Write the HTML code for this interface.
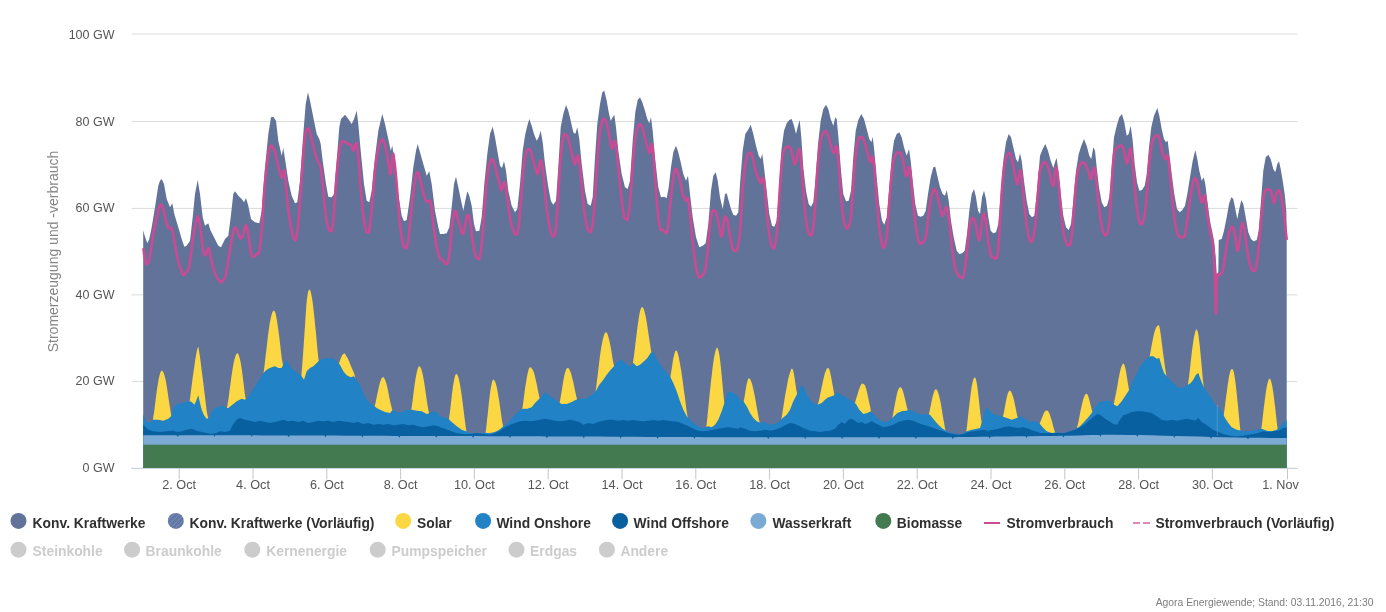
<!DOCTYPE html>
<html lang="de"><head><meta charset="utf-8"><title>Agorameter</title>
<style>
html,body{margin:0;padding:0;background:#fff;}
body{width:1386px;height:612px;overflow:hidden;font-family:"Liberation Sans",Arial,sans-serif;}
svg{display:block;will-change:transform;}
text{font-family:"Liberation Sans",Arial,sans-serif;}
.ax{font-size:12.7px;fill:#555555;}
.ay{font-size:12.5px;}
.ttl{font-size:14px;fill:#858585;}
.lg{font-size:13.85px;font-weight:bold;fill:#303030;}
.off{fill:#cccccc;}
.ft{font-size:10.35px;fill:#7d7d7d;}
</style></head><body>
<svg width="1386" height="612" viewBox="0 0 1386 612">
<rect width="1386" height="612" fill="#ffffff"/>
<line x1="131.5" x2="1297.5" y1="468.3" y2="468.3" stroke="#c0c8d8" stroke-width="1"/>
<line x1="131.5" x2="1297.5" y1="381.6" y2="381.6" stroke="#dadada" stroke-width="1"/>
<line x1="131.5" x2="1297.5" y1="294.9" y2="294.9" stroke="#dadada" stroke-width="1"/>
<line x1="131.5" x2="1297.5" y1="208.4" y2="208.4" stroke="#dadada" stroke-width="1"/>
<line x1="131.5" x2="1297.5" y1="121.6" y2="121.6" stroke="#dadada" stroke-width="1"/>
<line x1="131.5" x2="1297.5" y1="34.0" y2="34.0" stroke="#dadada" stroke-width="1"/>
<polygon points="143.2,230.7 143.3,230.7 144.7,235.7 147.3,243.3 149.3,239.0 151.7,227.3 155.0,207.3 158.3,185.7 160.0,180.7 161.7,179.0 164.0,184.0 166.7,199.0 170.0,207.3 172.3,203.3 174.3,214.0 178.3,227.3 181.7,239.0 184.3,246.7 186.7,245.7 190.0,240.7 192.7,217.3 195.0,194.0 197.7,180.0 200.0,194.0 202.7,217.3 205.0,225.7 208.3,223.3 210.7,230.7 214.0,237.3 218.3,245.7 221.0,247.3 225.0,239.0 228.3,235.7 230.7,217.3 233.3,194.0 235.0,191.3 238.3,195.7 241.7,199.0 244.0,202.3 246.0,198.0 248.3,205.7 251.0,219.0 255.0,222.3 259.3,223.3 261.7,210.7 265.0,167.3 268.3,134.0 271.0,117.3 273.3,116.7 276.0,120.7 278.3,140.7 281.7,155.7 283.3,148.0 285.3,160.7 288.3,180.7 291.7,195.7 295.0,203.3 297.3,202.3 300.0,180.7 303.3,134.0 305.7,104.0 308.0,92.3 310.0,100.7 313.3,117.3 316.7,134.0 319.3,139.0 320.7,144.0 322.7,160.7 326.0,184.0 328.3,196.7 331.7,197.3 334.0,194.0 336.7,160.7 339.3,127.3 341.0,119.0 345.0,114.7 348.3,119.0 351.7,124.0 354.0,119.0 356.7,110.7 358.3,124.0 360.7,150.7 364.0,184.0 366.7,200.7 369.3,202.3 371.7,190.7 375.0,157.3 378.3,130.7 382.3,114.0 385.0,124.0 388.3,139.0 390.7,150.7 392.3,145.7 395.0,164.0 398.3,194.0 401.7,215.7 404.0,221.3 406.7,220.0 410.0,197.3 413.3,167.3 416.0,150.7 417.7,144.0 420.0,152.3 423.3,164.0 426.7,175.7 429.3,171.3 431.7,184.0 435.0,210.7 438.3,227.3 440.0,234.0 443.3,234.0 446.7,233.3 449.3,227.3 451.7,207.3 454.0,184.0 456.0,176.7 458.3,187.3 460.7,199.0 463.3,210.7 465.3,200.7 467.3,191.3 469.3,195.7 471.7,205.7 474.0,224.0 476.0,231.3 479.3,230.7 481.7,217.3 484.3,184.0 487.3,154.0 490.0,134.0 492.7,126.7 495.0,137.3 497.3,150.7 500.0,165.7 502.0,168.0 504.0,161.3 506.0,170.7 508.3,190.7 511.7,205.7 515.0,212.3 517.3,209.0 520.0,184.0 522.7,150.7 525.3,134.0 527.3,125.7 529.3,119.0 531.7,125.7 534.0,134.0 536.7,140.7 538.7,137.3 540.7,130.7 542.7,142.3 545.0,164.0 548.3,187.3 551.0,201.3 553.3,204.7 556.0,200.7 558.3,167.3 560.7,127.3 563.3,114.0 566.0,105.0 568.3,110.7 570.7,120.7 573.3,132.3 575.3,134.0 577.3,127.3 579.3,139.0 581.7,164.0 585.0,190.7 587.7,204.0 590.7,205.7 592.7,197.3 595.0,157.3 597.3,124.0 600.0,104.0 602.3,92.3 604.3,90.7 606.7,100.7 608.7,112.3 610.7,120.7 612.7,117.3 614.3,114.7 616.0,127.3 618.3,150.7 621.7,174.0 625.0,187.3 627.7,189.0 630.0,180.7 632.7,140.7 635.3,112.3 637.7,100.0 640.0,97.3 642.3,102.3 645.0,110.7 647.3,119.0 649.3,123.3 651.0,117.3 652.7,130.7 655.0,157.3 658.3,187.3 661.0,197.3 664.0,196.7 666.7,198.0 668.7,187.3 671.0,167.3 673.3,152.3 676.0,145.7 678.3,152.3 680.7,162.3 683.3,174.0 686.0,180.7 688.0,175.7 690.0,194.0 692.7,217.3 696.0,237.3 699.3,247.3 702.7,245.7 705.7,243.3 708.3,224.0 711.0,190.7 713.3,175.7 715.7,172.3 717.7,180.7 720.0,197.3 722.7,209.0 725.0,194.0 726.7,193.3 728.7,200.7 731.0,209.0 733.3,214.7 736.0,215.7 738.3,212.3 740.0,184.0 742.7,150.7 745.3,134.0 748.0,130.0 750.7,124.7 753.3,134.0 756.0,145.7 758.7,155.7 760.7,159.0 762.3,154.0 764.0,167.3 766.7,190.7 769.3,214.0 772.0,225.7 774.3,226.7 776.7,220.7 779.0,190.7 781.3,150.7 784.0,130.7 786.7,123.3 789.3,120.0 791.7,119.0 794.0,125.7 796.0,134.0 798.0,125.7 799.7,120.0 801.3,137.3 803.3,167.3 806.0,190.7 808.7,204.0 811.0,206.7 813.3,202.3 815.7,177.3 818.0,144.0 820.7,120.7 823.3,109.0 826.0,104.7 828.3,109.0 830.7,119.0 833.3,125.7 835.3,117.3 836.7,119.0 838.7,140.7 841.0,170.7 843.3,194.0 846.0,201.3 848.7,200.7 851.0,190.7 853.3,157.3 855.7,130.7 858.3,120.0 861.3,114.0 864.0,119.0 866.7,129.0 869.3,139.0 871.3,142.3 872.7,136.7 874.3,150.7 876.7,177.3 879.3,204.0 882.0,220.7 884.3,224.7 886.7,217.3 889.0,190.7 891.7,157.3 894.0,140.7 896.7,134.0 899.3,132.3 901.7,137.3 904.0,147.3 906.7,155.7 909.0,149.0 910.7,160.7 912.7,180.7 915.3,204.0 918.0,215.7 920.7,216.7 923.3,215.7 925.7,210.7 928.0,194.0 930.7,177.3 933.3,167.3 935.3,166.7 937.3,175.7 940.0,187.3 942.7,194.0 945.0,195.7 946.7,190.0 948.7,200.7 951.0,220.7 953.7,237.3 956.7,250.7 959.3,254.0 962.0,253.3 964.7,250.7 967.0,234.0 969.3,210.7 971.7,194.0 974.0,189.0 976.0,197.3 978.0,210.7 980.0,214.0 982.0,197.3 984.0,190.7 986.0,199.0 988.3,217.3 990.7,230.7 993.3,233.3 996.0,232.3 998.3,224.0 1000.7,194.0 1003.3,160.7 1006.0,142.3 1008.7,134.0 1011.0,137.3 1013.3,147.3 1016.0,159.0 1018.0,162.3 1020.0,153.3 1021.7,160.7 1024.0,180.7 1026.7,200.7 1029.3,214.0 1032.0,217.3 1034.3,215.7 1036.7,194.0 1039.0,167.3 1040.0,155.7 1042.7,149.0 1045.3,144.0 1048.0,150.7 1050.7,160.7 1053.3,168.0 1055.3,161.3 1056.7,158.0 1058.3,170.7 1060.7,194.0 1063.3,215.7 1066.0,227.3 1068.7,230.0 1071.0,224.0 1073.3,200.7 1076.0,170.7 1078.7,154.0 1081.3,145.7 1084.0,139.0 1086.7,145.7 1089.3,155.7 1091.3,159.0 1093.3,147.3 1095.0,150.7 1096.7,167.3 1099.0,187.3 1101.7,202.3 1104.3,207.3 1107.0,205.7 1109.3,197.3 1111.7,167.3 1114.0,137.3 1116.7,125.7 1119.3,117.3 1122.0,114.0 1124.3,122.3 1126.7,135.7 1128.7,134.0 1130.7,125.7 1132.7,140.7 1134.7,164.0 1137.0,182.3 1139.3,190.7 1142.0,190.0 1144.7,185.7 1146.7,174.0 1149.0,147.3 1151.3,127.3 1154.0,115.7 1157.3,108.0 1159.3,115.7 1161.7,129.0 1164.0,139.0 1166.0,142.3 1167.7,140.7 1169.3,154.0 1171.7,174.0 1174.3,194.0 1177.0,209.0 1179.7,212.3 1182.3,210.0 1185.0,205.7 1187.3,194.0 1190.0,177.3 1192.7,160.7 1195.3,150.0 1197.3,159.0 1199.3,170.7 1201.7,180.7 1203.7,177.3 1205.3,184.0 1207.3,200.7 1210.0,220.7 1212.7,234.0 1214.3,242.3 1215.7,257.3 1216.7,274.0 1218.3,274.0 1218.7,240.0 1221.7,239.0 1224.0,230.7 1226.7,217.3 1229.0,204.0 1231.3,197.3 1233.3,199.0 1235.3,209.0 1237.3,219.0 1239.3,209.0 1241.3,200.0 1243.3,204.0 1245.7,217.3 1248.3,232.3 1251.0,239.0 1253.7,241.3 1256.7,240.0 1258.7,230.7 1261.0,200.7 1263.3,170.7 1265.7,157.3 1268.3,154.7 1270.7,159.0 1273.3,169.0 1275.3,172.3 1277.3,164.0 1279.0,161.3 1280.7,169.0 1282.7,180.7 1284.7,194.0 1286.3,210.7 1286.7,230.7 1286.7,468.0 143.2,468.0" fill="#62739a" />
<polygon points="152.9,420.0 153.4,416.6 154.0,412.9 154.5,408.9 155.0,404.9 155.5,400.8 156.0,396.8 156.5,392.9 157.0,389.2 157.6,385.7 158.1,382.5 158.6,379.6 159.1,377.1 159.6,375.0 160.1,373.3 160.6,372.0 161.1,371.1 161.7,370.7 162.2,370.7 162.7,371.2 163.2,372.0 163.7,373.1 164.2,374.4 164.7,376.2 165.2,378.3 165.8,380.7 166.3,383.4 166.8,386.4 167.3,389.7 167.8,393.1 168.3,396.7 168.8,400.1 169.3,403.6 169.9,407.0 170.4,410.4 170.9,413.5 171.4,414.9 171.4,468.0 152.9,468.0" fill="#fbd744"/>
<polygon points="189.6,401.4 190.1,397.9 190.6,394.0 191.1,389.8 191.7,385.6 192.2,381.5 192.7,377.6 193.2,374.0 193.7,370.6 194.2,367.5 194.7,363.7 195.2,359.9 195.8,356.6 196.3,353.7 196.8,351.1 197.3,349.1 197.8,347.7 198.3,346.6 198.8,349.5 199.3,352.7 199.9,356.4 200.4,360.1 200.9,364.0 201.4,368.2 201.9,372.2 202.4,376.1 202.9,380.2 203.5,384.5 204.0,389.0 204.5,393.0 205.0,397.1 205.5,401.2 206.0,405.3 206.5,409.4 207.0,412.8 207.6,415.8 208.1,418.3 208.1,468.0 189.6,468.0" fill="#fbd744"/>
<polygon points="226.9,408.0 227.4,405.4 227.9,402.3 228.5,398.8 229.0,395.0 229.5,391.1 230.0,387.2 230.5,383.4 231.0,379.7 231.5,376.1 232.0,372.7 232.5,369.5 233.0,366.5 233.5,363.8 234.0,361.3 234.6,359.1 235.1,357.3 235.6,355.7 236.1,354.5 236.6,353.7 237.1,353.3 237.6,353.3 238.1,353.8 238.6,354.8 239.1,356.2 239.6,357.9 240.1,360.1 240.7,362.6 241.2,365.5 241.7,368.6 242.2,372.4 242.7,376.4 243.2,380.5 243.7,384.6 244.2,388.8 244.7,392.9 245.2,396.4 245.7,398.9 245.7,468.0 226.9,468.0" fill="#fbd744"/>
<polygon points="263.6,373.0 264.1,369.3 264.6,365.0 265.1,360.5 265.6,356.0 266.2,351.5 266.7,347.0 267.2,342.5 267.7,338.2 268.2,334.1 268.7,330.3 269.2,326.8 269.7,323.6 270.3,320.6 270.8,318.0 271.3,315.8 271.8,313.9 272.3,312.5 272.8,311.5 273.3,310.9 273.8,310.6 274.4,310.9 274.9,311.6 275.4,313.1 275.9,315.1 276.4,317.6 276.9,320.4 277.4,323.6 277.9,327.2 278.5,331.0 279.0,334.9 279.5,339.0 280.0,343.2 280.5,347.6 281.0,352.0 281.5,356.4 282.0,359.9 282.6,362.8 283.1,365.0 283.1,468.0 263.6,468.0" fill="#fbd744"/>
<polygon points="301.3,375.9 301.8,370.6 302.3,364.2 302.8,357.5 303.3,350.6 303.8,343.8 304.3,335.7 304.9,327.2 305.4,319.2 305.9,311.8 306.4,305.1 306.9,299.7 307.4,295.8 307.9,292.8 308.5,290.8 309.0,289.7 309.5,289.5 310.0,289.9 310.5,291.1 311.0,293.0 311.5,295.4 312.1,298.4 312.6,301.9 313.1,305.9 313.6,310.2 314.1,314.7 314.6,319.6 315.1,324.8 315.7,330.1 316.2,335.6 316.7,341.2 317.2,346.6 317.7,352.0 318.2,356.9 318.7,360.9 318.7,468.0 301.3,468.0" fill="#fbd744"/>
<polygon points="338.9,363.6 339.4,362.2 340.0,360.5 340.5,359.1 341.0,357.8 341.5,356.6 342.0,355.5 342.5,354.7 343.1,354.2 343.6,353.8 344.1,353.5 344.6,353.6 345.1,354.1 345.6,354.8 346.1,355.7 346.7,356.7 347.2,357.4 347.7,358.3 348.2,359.3 348.7,360.4 349.2,361.6 349.7,362.9 350.3,364.3 350.8,365.7 351.3,366.8 351.8,367.9 352.3,369.1 352.8,370.4 353.3,371.6 353.9,372.8 354.4,374.5 354.9,376.4 355.4,378.1 355.4,468.0 338.9,468.0" fill="#fbd744"/>
<polygon points="374.6,406.3 375.1,404.6 375.6,402.4 376.1,400.0 376.6,397.6 377.1,395.0 377.7,392.5 378.2,390.0 378.7,387.7 379.2,385.5 379.7,383.6 380.2,381.8 380.7,380.4 381.2,379.1 381.7,378.2 382.2,377.6 382.7,377.3 383.2,377.3 383.8,377.6 384.3,378.3 384.8,379.2 385.3,380.4 385.8,381.7 386.3,383.3 386.8,385.2 387.3,387.3 387.8,389.6 388.3,392.1 388.8,394.7 389.3,397.4 389.9,400.3 390.4,402.6 390.9,404.7 391.4,406.7 391.9,408.6 392.4,410.0 392.4,468.0 374.6,468.0" fill="#fbd744"/>
<polygon points="411.3,409.7 411.8,406.6 412.3,402.9 412.8,399.0 413.3,395.0 413.8,391.1 414.3,387.3 414.8,383.6 415.3,380.2 415.8,377.0 416.4,374.2 416.9,371.8 417.4,369.8 417.9,368.2 418.4,367.1 418.9,366.5 419.4,366.3 419.9,366.6 420.4,367.3 420.9,368.2 421.4,369.5 421.9,371.3 422.5,373.4 423.0,375.8 423.5,378.5 424.0,381.4 424.5,384.5 425.0,387.8 425.5,391.2 426.0,394.8 426.5,398.4 427.0,401.7 427.5,404.9 428.0,408.0 428.6,410.9 429.1,413.3 429.1,468.0 411.3,468.0" fill="#fbd744"/>
<polygon points="448.9,419.3 449.4,415.9 450.0,411.7 450.5,407.3 451.0,402.8 451.5,398.3 452.0,394.0 452.5,389.9 453.0,386.1 453.6,382.7 454.1,379.8 454.6,377.5 455.1,375.7 455.6,374.5 456.1,373.9 456.6,374.0 457.2,374.5 457.7,375.4 458.2,376.8 458.7,378.5 459.2,380.7 459.7,383.1 460.2,386.0 460.7,389.1 461.3,392.5 461.8,396.2 462.3,399.9 462.8,403.9 463.3,408.0 463.8,412.1 464.3,416.3 464.9,420.5 465.4,424.5 465.9,428.3 466.4,431.5 466.4,468.0 448.9,468.0" fill="#fbd744"/>
<polygon points="485.6,433.0 486.1,429.1 486.6,424.4 487.1,419.4 487.7,414.4 488.2,409.4 488.7,404.5 489.2,399.9 489.7,395.7 490.2,391.8 490.7,388.3 491.3,385.4 491.8,383.0 492.3,381.3 492.8,380.1 493.3,379.7 493.8,379.8 494.3,380.3 494.8,381.2 495.4,382.3 495.9,383.9 496.4,385.7 496.9,388.0 497.4,390.5 497.9,393.3 498.4,396.4 499.0,399.7 499.5,403.2 500.0,406.6 500.5,410.2 501.0,413.8 501.5,417.3 502.0,420.8 502.6,424.0 503.1,426.6 503.1,468.0 485.6,468.0" fill="#fbd744"/>
<polygon points="522.3,409.2 522.8,405.9 523.3,402.1 523.8,398.2 524.3,394.3 524.8,390.5 525.3,386.8 525.9,383.2 526.4,380.0 526.9,377.0 527.4,374.4 527.9,372.1 528.4,370.2 528.9,368.7 529.5,367.8 530.0,367.3 530.5,367.3 531.0,367.6 531.5,368.2 532.0,368.8 532.5,369.5 533.1,370.5 533.6,371.8 534.1,373.3 534.6,375.0 535.1,376.9 535.6,379.2 536.1,381.6 536.7,384.0 537.2,386.6 537.7,389.2 538.2,391.7 538.7,394.2 539.2,396.5 539.7,398.3 539.7,468.0 522.3,468.0" fill="#fbd744"/>
<polygon points="559.6,402.8 560.1,400.4 560.6,397.5 561.1,394.5 561.7,391.3 562.2,388.0 562.7,384.7 563.2,381.6 563.7,378.7 564.2,376.1 564.7,373.8 565.3,371.9 565.8,370.3 566.3,369.2 566.8,368.5 567.3,368.0 567.8,367.9 568.3,368.1 568.8,368.6 569.4,369.4 569.9,370.4 570.4,371.6 570.9,373.1 571.4,374.8 571.9,376.7 572.4,378.7 573.0,380.8 573.5,383.1 574.0,385.5 574.5,387.9 575.0,390.4 575.5,392.8 576.0,395.2 576.6,397.5 577.1,399.4 577.1,468.0 559.6,468.0" fill="#fbd744"/>
<polygon points="595.6,391.1 596.1,387.8 596.6,383.8 597.1,379.5 597.7,375.1 598.2,370.7 598.7,366.3 599.2,362.0 599.7,358.1 600.2,354.4 600.7,350.9 601.2,347.7 601.8,344.7 602.3,342.0 602.8,339.6 603.3,337.6 603.8,335.8 604.3,334.3 604.8,333.3 605.3,332.6 605.9,332.3 606.4,332.4 606.9,332.9 607.4,333.9 607.9,335.2 608.4,336.9 608.9,338.8 609.4,341.0 610.0,343.5 610.5,346.2 611.0,349.1 611.5,352.1 612.0,355.2 612.5,358.3 613.0,361.3 613.6,364.1 614.1,366.2 614.1,468.0 595.6,468.0" fill="#fbd744"/>
<polygon points="632.9,363.4 633.4,359.5 634.0,355.7 634.5,351.6 635.0,347.3 635.5,343.1 636.0,339.0 636.5,335.0 637.0,330.7 637.6,326.4 638.1,322.5 638.6,319.0 639.1,315.9 639.6,313.3 640.1,311.1 640.6,309.3 641.1,308.1 641.7,307.3 642.2,307.1 642.7,307.3 643.2,308.0 643.7,309.1 644.2,310.5 644.7,312.3 645.2,314.4 645.8,316.9 646.3,319.7 646.8,322.8 647.3,326.1 647.8,329.3 648.3,332.7 648.8,336.1 649.3,339.6 649.9,343.1 650.4,346.4 650.9,349.7 651.4,352.5 651.4,468.0 632.9,468.0" fill="#fbd744"/>
<polygon points="670.3,376.9 670.8,374.5 671.3,371.4 671.8,368.2 672.3,364.9 672.8,361.6 673.3,358.6 673.9,356.1 674.4,354.0 674.9,352.3 675.4,351.1 675.9,350.5 676.4,350.4 676.9,351.0 677.5,352.4 678.0,354.1 678.5,356.2 679.0,358.5 679.5,361.1 680.0,363.9 680.5,366.8 681.1,369.9 681.6,373.2 682.1,376.7 682.6,380.4 683.1,384.2 683.6,388.1 684.1,391.9 684.7,395.8 685.2,399.8 685.7,403.8 686.2,407.7 686.7,411.5 687.2,414.7 687.7,417.4 687.7,468.0 670.3,468.0" fill="#fbd744"/>
<polygon points="706.3,427.0 706.8,423.0 707.3,418.2 707.8,413.1 708.3,407.8 708.8,402.7 709.3,397.7 709.8,392.8 710.3,387.9 710.8,383.3 711.3,378.9 711.8,374.6 712.3,370.2 712.8,366.1 713.3,362.4 713.8,359.1 714.3,356.3 714.8,353.9 715.3,351.7 715.8,349.9 716.3,348.6 716.8,347.8 717.3,347.8 717.9,348.7 718.4,350.4 718.9,352.4 719.4,355.3 719.9,358.8 720.4,362.9 720.9,367.6 721.4,372.7 721.9,378.1 722.4,383.5 722.9,388.9 723.4,394.3 723.9,399.3 724.4,403.1 724.4,468.0 706.3,468.0" fill="#fbd744"/>
<polygon points="743.6,401.7 744.1,399.4 744.6,396.5 745.1,393.4 745.6,390.3 746.1,387.3 746.6,384.6 747.1,382.4 747.6,380.6 748.1,379.3 748.6,378.4 749.1,378.1 749.6,378.4 750.2,379.2 750.7,380.2 751.2,381.4 751.7,382.9 752.2,384.6 752.7,386.6 753.2,388.8 753.7,391.0 754.2,393.3 754.7,395.8 755.2,398.5 755.7,401.3 756.2,404.2 756.7,407.1 757.2,409.9 757.7,412.6 758.2,415.3 758.7,418.0 759.2,420.5 759.7,422.6 759.7,468.0 743.6,468.0" fill="#fbd744"/>
<polygon points="781.3,419.4 781.8,416.8 782.3,413.7 782.8,410.5 783.3,407.2 783.8,404.0 784.3,400.7 784.8,397.6 785.3,394.5 785.9,391.5 786.4,388.7 786.9,385.9 787.4,383.1 787.9,380.6 788.4,378.3 788.9,376.2 789.4,374.4 789.9,372.9 790.4,371.2 791.0,369.8 791.5,368.8 792.0,368.6 792.5,369.1 793.0,370.2 793.5,372.1 794.0,374.6 794.5,377.6 795.0,380.9 795.5,384.4 796.0,387.9 796.6,391.2 797.1,393.9 797.1,468.0 781.3,468.0" fill="#fbd744"/>
<polygon points="817.9,404.4 818.4,402.5 819.0,400.3 819.5,397.9 820.0,395.4 820.5,393.0 821.0,390.5 821.5,388.1 822.1,385.5 822.6,383.0 823.1,380.6 823.6,378.3 824.1,376.2 824.6,374.3 825.1,372.6 825.7,371.2 826.2,370.0 826.7,369.1 827.2,368.4 827.7,368.0 828.2,367.9 828.7,368.5 829.3,369.6 829.8,371.1 830.3,373.0 830.8,375.4 831.3,378.0 831.8,380.8 832.3,383.7 832.9,386.8 833.4,389.8 833.9,392.6 834.4,395.0 834.4,468.0 817.9,468.0" fill="#fbd744"/>
<polygon points="854.9,403.1 855.4,401.6 855.9,399.6 856.4,397.8 857.0,396.1 857.5,394.4 858.0,392.7 858.5,391.1 859.0,389.6 859.5,388.3 860.0,386.8 860.5,385.7 861.0,384.7 861.5,384.0 862.0,383.6 862.5,383.5 863.0,383.7 863.5,384.0 864.0,384.2 864.5,384.7 865.0,385.6 865.5,386.8 866.0,388.3 866.5,390.1 867.0,392.2 867.5,394.4 868.0,396.7 868.5,399.2 869.0,401.7 869.6,404.3 870.1,406.8 870.6,409.2 871.1,411.7 871.1,468.0 854.9,468.0" fill="#fbd744"/>
<polygon points="892.3,418.1 892.8,415.7 893.3,413.0 893.8,410.1 894.3,407.2 894.8,404.4 895.4,401.6 895.9,398.9 896.4,396.4 896.9,394.1 897.4,392.1 897.9,390.6 898.5,389.3 899.0,388.3 899.5,387.7 900.0,387.3 900.5,387.3 901.0,387.6 901.5,388.1 902.1,389.1 902.6,390.3 903.1,391.8 903.6,393.5 904.1,395.4 904.6,397.5 905.2,399.7 905.7,402.0 906.2,404.2 906.7,406.4 907.2,408.5 907.7,410.1 907.7,468.0 892.3,468.0" fill="#fbd744"/>
<polygon points="928.9,414.5 929.4,412.1 930.0,409.2 930.5,406.7 931.0,404.2 931.5,401.7 932.0,399.3 932.5,397.0 933.1,395.0 933.6,393.2 934.1,391.8 934.6,390.6 935.1,389.8 935.6,389.3 936.1,389.3 936.7,389.7 937.2,390.4 937.7,391.5 938.2,392.9 938.7,394.5 939.2,396.3 939.7,398.5 940.3,400.9 940.8,403.5 941.3,406.4 941.8,409.4 942.3,412.5 942.8,415.7 943.3,418.8 943.9,422.0 944.4,425.1 944.9,428.0 945.4,430.5 945.4,468.0 928.9,468.0" fill="#fbd744"/>
<polygon points="966.3,431.5 966.8,427.8 967.3,423.4 967.8,418.7 968.3,414.0 968.8,409.2 969.4,404.6 969.9,400.1 970.4,395.9 970.9,392.0 971.4,388.5 971.9,385.4 972.5,382.8 973.0,380.6 973.5,379.0 974.0,377.9 974.5,377.4 975.0,377.5 975.5,378.3 976.1,379.9 976.6,382.2 977.1,385.2 977.6,388.8 978.1,393.0 978.6,397.6 979.2,402.6 979.7,407.8 980.2,412.6 980.7,416.4 981.2,419.9 981.7,422.6 981.7,468.0 966.3,468.0" fill="#fbd744"/>
<polygon points="1002.9,416.8 1003.4,414.6 1004.0,412.0 1004.5,409.2 1005.0,406.4 1005.5,403.7 1006.0,401.1 1006.5,398.7 1007.0,396.5 1007.5,394.6 1008.0,393.1 1008.5,391.9 1009.1,391.1 1009.6,390.7 1010.1,390.7 1010.6,391.1 1011.1,391.8 1011.6,392.9 1012.1,394.0 1012.6,395.4 1013.1,397.1 1013.7,399.0 1014.2,401.1 1014.7,403.4 1015.2,405.8 1015.7,408.3 1016.2,410.9 1016.7,413.4 1017.2,415.7 1017.7,417.6 1017.7,468.0 1002.9,468.0" fill="#fbd744"/>
<polygon points="1039.6,423.7 1040.1,422.6 1040.6,421.3 1041.1,420.0 1041.7,418.6 1042.2,417.2 1042.7,415.9 1043.2,414.7 1043.7,413.5 1044.2,412.5 1044.8,411.7 1045.3,411.1 1045.8,410.7 1046.3,410.6 1046.8,410.6 1047.3,410.7 1047.8,411.0 1048.4,411.5 1048.9,412.4 1049.4,413.4 1049.9,414.7 1050.4,416.2 1050.9,417.9 1051.5,419.8 1052.0,421.6 1052.5,423.5 1053.0,425.4 1053.5,427.3 1054.0,429.3 1054.6,431.1 1055.1,432.5 1055.1,468.0 1039.6,468.0" fill="#fbd744"/>
<polygon points="1076.9,428.1 1077.4,426.1 1078.0,423.8 1078.5,421.3 1079.0,418.8 1079.5,416.2 1080.0,413.7 1080.5,411.1 1081.1,408.5 1081.6,406.1 1082.1,403.8 1082.6,401.7 1083.1,399.8 1083.6,398.2 1084.2,396.7 1084.7,395.6 1085.2,394.6 1085.7,394.0 1086.2,393.7 1086.7,393.8 1087.2,394.3 1087.8,395.2 1088.3,396.5 1088.8,398.0 1089.3,399.8 1089.8,401.8 1090.3,403.9 1090.9,406.1 1091.4,408.4 1091.9,410.3 1092.4,411.8 1092.4,468.0 1076.9,468.0" fill="#fbd744"/>
<polygon points="1113.6,404.3 1114.1,402.5 1114.6,400.1 1115.1,397.5 1115.7,394.8 1116.2,392.1 1116.7,389.5 1117.2,386.9 1117.7,383.9 1118.2,380.8 1118.8,377.8 1119.3,375.1 1119.8,372.7 1120.3,370.5 1120.8,368.6 1121.3,367.0 1121.8,365.7 1122.4,364.5 1122.9,363.7 1123.4,363.5 1123.9,364.0 1124.4,365.0 1124.9,366.7 1125.5,368.8 1126.0,371.4 1126.5,374.4 1127.0,377.6 1127.5,381.0 1128.0,384.3 1128.6,387.5 1129.1,390.1 1129.1,468.0 1113.6,468.0" fill="#fbd744"/>
<polygon points="1149.6,356.6 1150.1,354.1 1150.6,351.5 1151.1,348.6 1151.6,345.8 1152.1,342.9 1152.7,340.1 1153.2,337.4 1153.7,335.0 1154.2,333.0 1154.7,331.2 1155.2,329.7 1155.7,328.4 1156.2,327.4 1156.7,326.7 1157.2,325.9 1157.7,325.4 1158.3,325.3 1158.8,325.5 1159.3,326.1 1159.8,328.7 1160.3,331.8 1160.8,335.3 1161.3,339.0 1161.8,342.9 1162.3,346.7 1162.8,350.7 1163.3,354.9 1163.9,359.1 1164.4,362.9 1164.9,366.4 1165.4,369.9 1165.9,373.2 1166.4,376.0 1166.4,468.0 1149.6,468.0" fill="#fbd744"/>
<polygon points="1187.9,384.9 1188.4,381.4 1189.0,377.2 1189.5,372.9 1190.0,368.4 1190.5,364.0 1191.0,359.4 1191.5,355.0 1192.0,350.8 1192.5,346.9 1193.0,343.4 1193.5,340.1 1194.0,337.0 1194.6,334.4 1195.1,332.3 1195.6,330.6 1196.1,329.6 1196.6,329.6 1197.1,330.2 1197.6,331.3 1198.1,332.9 1198.6,336.0 1199.1,340.4 1199.7,345.1 1200.2,350.2 1200.7,355.5 1201.2,360.9 1201.7,366.4 1202.2,372.0 1202.7,377.5 1203.2,382.8 1203.7,386.9 1203.7,468.0 1187.9,468.0" fill="#fbd744"/>
<polygon points="1223.6,415.2 1224.1,412.5 1224.6,409.0 1225.1,405.1 1225.6,401.0 1226.1,396.8 1226.7,392.7 1227.2,388.8 1227.7,385.1 1228.2,381.7 1228.7,378.6 1229.2,375.8 1229.7,373.5 1230.2,371.6 1230.7,370.3 1231.2,369.4 1231.7,369.1 1232.3,369.0 1232.8,369.4 1233.3,370.6 1233.8,372.3 1234.3,374.7 1234.8,377.7 1235.3,381.3 1235.8,385.3 1236.3,389.8 1236.8,394.6 1237.3,399.7 1237.9,405.0 1238.4,410.4 1238.9,415.8 1239.4,421.2 1239.9,426.2 1240.4,430.4 1240.4,468.0 1223.6,468.0" fill="#fbd744"/>
<polygon points="1261.3,428.7 1261.8,425.2 1262.3,421.1 1262.8,416.8 1263.3,412.3 1263.8,407.9 1264.4,403.6 1264.9,399.5 1265.4,395.6 1265.9,392.0 1266.4,388.8 1266.9,386.0 1267.4,383.5 1268.0,381.5 1268.5,380.0 1269.0,379.1 1269.5,378.7 1270.0,378.9 1270.5,379.6 1271.0,381.0 1271.6,382.9 1272.1,385.2 1272.6,388.0 1273.1,391.2 1273.6,394.9 1274.1,398.8 1274.6,403.1 1275.2,407.6 1275.7,412.2 1276.2,416.9 1276.7,421.4 1277.2,425.5 1277.7,428.8 1277.7,468.0 1261.3,468.0" fill="#fbd744"/>
<polygon points="143.2,414.7 143.3,414.7 146.0,421.3 149.3,423.0 153.3,419.7 158.3,419.7 163.3,420.7 168.3,418.7 171.0,416.3 173.3,408.0 176.7,404.0 181.7,403.0 186.7,402.0 190.0,401.3 192.0,402.3 194.3,404.7 196.0,401.3 198.3,395.3 200.0,403.0 201.7,409.7 204.0,415.3 206.7,418.7 209.0,418.0 211.7,411.3 215.0,408.0 220.0,406.3 223.3,405.3 226.0,408.0 228.3,408.0 231.7,405.3 236.7,401.3 241.7,398.7 245.0,399.7 248.3,396.3 251.7,391.3 255.0,386.3 258.3,381.3 261.7,375.3 265.0,371.3 268.3,368.7 271.7,367.3 275.0,366.3 278.3,368.0 281.7,368.0 284.0,363.0 286.7,359.7 289.3,364.7 291.7,368.0 295.0,371.3 298.3,373.0 301.7,376.3 304.0,379.7 306.7,371.3 310.0,368.0 313.3,366.3 316.7,363.0 320.0,359.7 323.3,358.7 326.7,358.0 330.0,358.7 333.3,358.0 336.7,361.3 340.0,364.7 343.3,371.3 346.7,375.3 350.7,377.3 354.0,376.3 356.7,379.7 360.0,384.7 363.3,393.0 366.7,399.7 370.0,403.0 373.3,405.3 376.7,408.0 380.0,409.7 385.0,412.0 390.0,413.0 392.7,409.7 396.7,412.0 400.0,413.0 403.3,411.3 406.7,409.7 411.7,409.7 416.7,410.7 421.7,411.3 426.7,414.0 430.0,413.0 433.3,411.3 436.7,412.0 440.0,416.3 444.0,417.3 448.3,418.7 451.7,422.0 456.7,426.3 461.7,429.7 466.0,431.3 470.0,433.0 475.0,433.0 480.0,433.0 485.0,433.0 490.0,433.0 495.0,432.0 499.3,429.7 503.3,426.3 506.7,424.0 510.7,419.7 515.0,414.7 519.3,410.7 523.3,408.7 527.3,408.7 531.7,407.3 535.0,403.0 538.3,399.7 541.7,396.3 545.0,392.0 547.3,394.0 550.7,396.3 555.0,399.7 558.3,402.0 561.7,404.0 566.7,404.0 571.7,402.0 576.0,399.7 580.0,398.7 584.0,398.7 588.3,397.3 592.7,394.0 596.0,390.7 599.3,384.7 603.3,379.7 606.7,374.7 610.7,369.7 614.0,366.3 617.3,362.0 620.7,359.7 624.0,361.3 626.7,364.7 630.0,366.3 633.3,363.0 636.7,366.3 640.0,364.7 644.0,361.3 647.3,358.0 650.7,353.0 653.3,351.3 656.0,357.3 659.3,363.0 662.7,368.0 666.7,373.0 670.0,376.3 673.3,383.0 676.7,391.3 680.0,401.3 683.3,409.7 686.7,416.3 690.0,419.7 693.3,423.0 698.3,426.3 703.3,428.0 708.3,426.3 711.7,427.3 715.0,424.7 718.3,419.7 721.7,411.3 725.0,401.3 727.3,393.0 730.0,391.3 733.3,393.0 736.7,394.7 740.0,399.7 743.3,401.3 746.7,406.3 750.0,413.0 753.3,418.0 756.7,421.3 760.7,423.0 765.0,422.0 770.0,424.7 775.0,424.0 779.3,421.3 782.7,418.0 786.7,414.7 790.0,409.7 793.3,401.3 796.7,394.7 799.3,389.7 801.7,384.7 804.0,388.0 806.7,394.0 810.0,399.7 813.3,403.0 817.3,404.7 821.7,403.0 825.0,399.7 828.3,397.3 831.7,396.3 835.0,394.7 837.3,392.0 840.0,394.0 844.0,396.3 848.3,398.7 852.7,401.3 856.0,404.0 859.3,409.7 863.3,414.0 867.3,413.0 870.7,411.3 874.0,414.7 877.3,418.0 881.7,421.3 886.7,422.0 890.7,419.7 894.0,416.3 897.3,413.0 901.7,411.3 906.0,410.7 909.3,409.7 912.7,410.7 916.7,413.0 921.7,414.7 926.0,414.0 930.0,414.7 934.0,419.7 938.3,424.7 942.7,428.7 946.7,431.3 951.7,433.0 956.7,434.0 961.7,434.0 966.7,431.3 971.7,429.7 976.7,428.7 980.0,428.0 982.7,419.7 985.0,409.7 987.3,407.3 990.0,411.3 993.3,414.0 997.3,415.3 1001.7,416.3 1006.7,418.0 1011.7,419.7 1016.7,418.0 1021.7,416.3 1026.0,419.7 1030.0,422.0 1034.0,421.3 1037.3,422.0 1040.0,424.0 1043.3,428.0 1046.7,431.3 1051.7,433.0 1056.7,432.3 1061.7,433.0 1066.7,432.0 1071.7,430.7 1076.0,428.7 1080.0,426.3 1084.0,422.0 1088.3,417.3 1091.7,413.0 1095.0,407.3 1098.3,403.0 1102.7,401.3 1106.7,400.7 1110.7,401.3 1114.0,404.7 1117.3,406.3 1121.7,401.3 1126.0,394.7 1129.3,389.7 1132.7,381.3 1136.0,374.7 1139.3,368.0 1142.7,363.0 1146.7,358.7 1150.0,356.3 1153.3,356.3 1156.7,358.7 1159.3,358.0 1161.7,366.3 1164.0,373.0 1166.7,376.3 1170.0,379.7 1173.3,383.0 1176.7,386.3 1180.0,388.0 1184.0,387.3 1187.3,385.3 1190.7,383.0 1193.3,379.7 1196.0,374.7 1198.3,373.0 1200.7,379.7 1203.3,386.3 1206.7,391.3 1210.0,396.3 1213.3,401.3 1216.0,405.3 1218.3,407.3 1221.7,411.3 1225.0,418.0 1228.3,423.0 1231.7,427.3 1236.7,429.7 1241.7,430.7 1246.7,431.3 1251.7,430.7 1256.7,429.7 1261.7,428.7 1266.7,430.7 1271.7,431.3 1276.7,429.7 1280.7,426.3 1284.0,422.0 1286.7,419.7 1286.7,468.0 143.2,468.0" fill="#2182c6" />
<polygon points="143.2,424.7 143.3,424.7 148.3,429.7 153.3,431.3 160.0,432.0 166.7,431.3 173.3,430.7 177.3,432.0 181.7,431.3 186.7,429.7 191.7,428.7 196.7,430.7 201.7,432.0 206.7,433.0 211.7,434.0 216.0,433.0 220.0,431.3 225.0,432.0 230.0,430.7 232.7,424.7 236.7,419.7 240.0,418.0 245.0,419.7 250.0,420.7 255.0,422.0 260.0,420.7 265.0,422.0 270.0,423.0 275.0,422.0 280.0,420.7 283.3,419.7 288.3,421.3 293.3,420.7 298.3,422.0 303.3,420.7 308.3,423.0 313.3,422.0 318.3,420.7 323.3,421.3 328.3,420.7 333.3,422.0 338.3,420.7 343.3,421.3 348.3,422.0 353.3,423.0 358.3,422.0 363.3,424.0 368.3,423.0 373.3,424.7 378.3,424.0 383.3,424.7 388.3,424.0 393.3,425.3 398.3,424.7 403.3,424.0 408.3,425.3 413.3,424.7 418.3,426.3 423.3,427.3 428.3,426.3 433.3,425.3 438.3,426.3 440.0,427.3 445.0,428.7 450.0,430.7 456.7,433.0 463.3,434.0 470.0,434.0 476.7,433.0 483.3,434.0 490.0,434.7 495.0,433.0 500.0,430.7 505.0,427.3 510.0,424.7 515.0,423.0 520.0,421.3 525.0,420.7 530.0,421.3 535.0,420.7 540.0,419.7 545.0,418.7 550.0,419.7 555.0,420.7 560.0,421.3 565.0,420.7 570.0,419.7 575.0,420.7 579.3,422.0 583.3,424.7 588.3,423.0 593.3,424.0 598.3,422.0 603.3,420.7 608.3,419.7 613.3,419.7 618.3,420.7 623.3,420.0 628.3,420.7 633.3,420.0 638.3,420.7 643.3,421.3 648.3,420.7 653.3,420.0 658.3,420.7 663.3,420.0 668.3,420.7 673.3,421.3 678.3,422.0 683.3,424.0 688.3,426.3 693.3,428.7 698.3,430.7 703.3,431.3 708.3,430.7 713.3,429.7 718.3,428.7 723.3,428.0 728.3,427.3 733.3,428.0 738.3,428.7 740.0,427.3 745.0,428.7 750.0,430.7 755.0,431.3 760.0,430.7 765.0,429.7 770.0,430.7 775.0,429.7 780.0,428.0 785.0,425.3 790.0,423.0 795.0,424.0 800.0,426.3 805.0,428.7 810.0,430.7 815.0,431.3 820.0,432.0 825.0,431.3 830.0,430.7 835.0,428.7 838.3,424.7 841.7,422.0 845.0,424.0 848.3,419.7 851.7,418.7 855.0,420.7 858.3,423.0 861.7,422.0 865.0,424.0 868.3,423.0 871.7,421.3 875.0,423.0 878.3,424.7 883.3,427.3 888.3,426.3 893.3,424.7 898.3,422.0 903.3,420.7 908.3,419.7 913.3,420.7 918.3,423.0 923.3,424.7 928.3,426.3 933.3,428.0 938.3,429.7 943.3,431.3 948.3,433.0 953.3,434.0 958.3,434.7 963.3,434.0 968.3,432.0 973.3,431.3 978.3,430.7 983.3,429.7 988.3,430.7 993.3,429.7 998.3,428.7 1003.3,427.3 1008.3,426.3 1013.3,427.3 1018.3,428.0 1023.3,427.3 1028.3,428.7 1033.3,430.7 1038.3,432.0 1040.0,433.0 1045.0,433.0 1050.0,433.0 1055.0,433.0 1060.0,433.0 1065.0,433.0 1070.0,431.3 1075.0,429.7 1080.0,427.3 1085.0,424.0 1090.0,419.7 1094.0,416.3 1097.3,414.0 1100.7,415.3 1105.0,418.7 1109.3,421.3 1113.3,424.0 1117.3,424.7 1120.0,419.7 1123.3,415.3 1127.3,414.0 1131.7,412.0 1136.7,411.3 1141.7,411.3 1146.7,412.0 1151.7,413.0 1156.7,416.3 1161.7,419.7 1166.7,420.7 1171.7,419.7 1176.7,420.7 1181.7,419.7 1186.7,418.7 1191.7,419.7 1195.0,420.7 1198.3,418.0 1201.7,422.0 1205.0,424.0 1208.3,426.3 1211.7,428.7 1215.0,430.7 1218.3,432.0 1223.3,434.0 1228.3,435.3 1233.3,436.3 1238.3,436.3 1243.3,435.7 1248.3,434.7 1253.3,434.0 1258.3,433.0 1263.3,431.3 1268.3,432.0 1273.3,431.3 1278.3,430.7 1283.3,428.0 1286.7,427.3 1286.7,468.0 143.2,468.0" fill="#0860a0" />
<polygon points="143.2,435.3 155.2,435.3 167.2,435.3 176.9,435.3 177.9,437.1 178.9,435.3 191.2,435.3 203.2,435.3 213.8,435.3 214.8,437.1 215.2,435.3 215.8,435.3 227.2,435.3 239.2,435.3 250.7,435.3 251.2,435.3 251.7,437.1 252.7,435.3 263.2,435.4 275.2,435.4 287.2,435.5 287.6,435.5 288.6,437.3 289.6,435.5 299.2,435.5 311.2,435.6 323.2,435.6 324.5,435.6 325.5,437.4 326.5,435.6 335.2,435.6 347.2,435.7 359.2,435.7 361.4,435.7 362.4,437.5 363.4,435.7 371.2,435.8 383.2,435.8 395.2,435.9 398.3,435.9 399.3,437.7 400.3,435.9 407.2,435.9 419.2,435.9 431.2,436.0 435.2,436.0 436.2,437.8 437.2,436.0 443.2,436.0 455.2,436.1 467.2,436.1 472.1,436.1 473.1,437.9 474.1,436.1 479.2,436.1 491.2,436.2 503.2,436.2 509.0,436.2 510.0,438.0 511.0,436.2 515.2,436.3 527.2,436.3 539.2,436.3 545.9,436.4 546.9,438.2 547.9,436.4 551.2,436.4 563.2,436.4 575.2,436.5 582.8,436.5 583.8,438.4 584.8,436.6 587.2,436.6 599.2,436.6 611.2,436.7 619.7,436.7 620.7,438.5 621.7,436.7 623.2,436.7 635.2,436.8 647.2,436.9 656.6,436.9 657.6,438.7 658.6,436.9 659.2,436.9 671.2,437.0 683.2,437.0 693.5,437.1 694.5,438.9 695.2,437.1 707.2,437.2 719.2,437.2 730.4,437.3 731.2,437.3 732.4,437.3 743.2,437.3 755.2,437.3 767.2,437.3 768.3,439.1 769.3,437.3 779.2,437.3 791.2,437.3 803.2,437.3 804.2,437.3 805.2,439.1 806.2,437.3 815.2,437.3 827.2,437.3 839.2,437.3 841.1,437.3 842.1,439.1 843.1,437.3 851.2,437.3 863.2,437.3 875.2,437.3 878.0,437.3 879.0,439.1 880.0,437.3 887.2,437.3 899.2,437.3 911.2,437.3 914.9,437.3 915.9,439.1 916.9,437.3 923.2,437.3 935.2,437.3 947.2,437.2 951.8,437.2 952.8,439.0 953.8,437.2 959.2,437.1 971.2,436.9 983.2,436.8 988.7,436.7 989.7,438.5 990.7,436.7 995.2,436.6 1007.2,436.5 1019.2,436.3 1025.6,436.3 1026.6,438.1 1027.6,436.2 1031.2,436.2 1043.2,436.0 1055.2,435.9 1062.5,435.8 1063.5,437.6 1064.5,435.8 1067.2,435.7 1079.2,435.5 1091.2,435.1 1099.4,434.9 1100.4,436.7 1101.4,434.8 1103.2,434.8 1115.2,434.8 1127.2,434.9 1136.3,435.0 1137.3,436.8 1138.3,435.0 1139.2,435.0 1151.2,435.3 1163.2,435.7 1173.2,436.0 1174.2,437.8 1175.2,436.0 1187.2,436.3 1199.2,436.6 1210.1,436.9 1211.1,438.7 1212.1,437.0 1223.2,437.2 1235.2,437.5 1247.0,437.7 1248.0,439.5 1249.0,437.7 1259.2,437.8 1271.2,437.9 1283.2,438.0 1286.7,438.0 1286.7,468.0 143.2,468.0" fill="#7baad4" />
<rect x="143.2" y="444.7" width="1143.5" height="23.3" fill="#447a50"/>
<line x1="1217.3" x2="1217.3" y1="405" y2="436" stroke="#8fb6da" stroke-width="0.8" opacity="0.45"/>
<path d="M143.5,249.0 C143.9,251.7 144.0,255.0 145.0,259.0 C146.0,263.0 146.0,264.9 147.3,264.0 C148.7,263.1 148.4,263.7 150.0,255.7 C151.6,247.7 151.6,244.2 153.3,234.0 C155.1,223.8 155.1,224.6 156.7,217.3 C158.3,210.0 158.0,209.8 159.3,206.7 C160.7,203.6 160.4,204.2 161.7,205.7 C162.9,207.2 162.7,207.4 164.0,212.3 C165.3,217.2 165.2,219.8 166.7,224.0 C168.1,228.2 167.9,226.7 169.3,228.0 C170.8,229.3 170.7,225.6 172.0,229.0 C173.3,232.4 172.9,233.1 174.3,240.7 C175.8,248.2 175.6,249.8 177.3,257.3 C179.0,264.9 179.1,264.4 180.7,269.0 C182.3,273.6 181.9,273.8 183.3,274.7 C184.8,275.6 184.4,274.7 186.0,272.3 C187.6,269.9 187.6,274.1 189.3,265.7 C191.1,257.2 190.9,252.2 192.7,240.7 C194.4,229.1 194.5,228.6 196.0,222.3 C197.5,216.1 197.1,215.1 198.3,217.3 C199.6,219.6 199.3,221.8 200.7,230.7 C202.0,239.6 202.0,244.3 203.3,250.7 C204.7,257.1 204.3,255.4 205.7,254.7 C207.0,254.0 207.2,248.2 208.3,248.0 C209.5,247.8 208.8,249.3 210.0,254.0 C211.2,258.7 211.1,259.9 212.7,265.7 C214.3,271.4 214.0,271.5 216.0,275.7 C218.0,279.8 218.2,280.0 220.0,281.3 C221.8,282.7 221.1,282.6 222.7,280.7 C224.3,278.7 224.2,281.1 226.0,274.0 C227.8,266.9 227.6,264.7 229.3,254.0 C231.1,243.3 231.2,240.9 232.7,234.0 C234.2,227.1 233.8,228.9 235.0,228.0 C236.2,227.1 236.0,228.0 237.3,230.7 C238.7,233.3 238.6,236.7 240.0,238.0 C241.4,239.3 241.3,238.5 242.7,235.7 C244.0,232.8 243.9,229.7 245.0,227.3 C246.1,224.9 245.7,224.0 246.7,226.7 C247.6,229.3 247.5,230.5 248.7,237.3 C249.8,244.2 249.8,247.2 251.0,252.3 C252.2,257.5 251.8,256.2 253.3,256.7 C254.8,257.1 255.1,255.6 256.7,254.0 C258.3,252.4 258.0,256.9 259.3,250.7 C260.7,244.4 260.3,246.7 261.7,230.7 C263.0,214.7 262.8,209.3 264.3,190.7 C265.8,172.0 265.8,172.2 267.3,160.7 C268.8,149.1 268.6,150.9 270.0,147.3 C271.4,143.8 271.3,146.0 272.7,147.3 C274.0,148.7 273.7,147.9 275.0,152.3 C276.3,156.8 276.3,158.4 277.7,164.0 C279.0,169.6 278.7,169.8 280.0,173.3 C281.3,176.9 281.5,177.9 282.7,177.3 C283.8,176.8 283.3,166.9 284.3,171.3 C285.4,175.8 285.3,181.7 286.7,194.0 C288.0,206.3 287.9,207.1 289.3,217.3 C290.8,227.6 290.7,226.6 292.0,232.3 C293.3,238.1 293.1,238.1 294.3,239.0 C295.6,239.9 295.3,243.2 296.7,235.7 C298.0,228.1 297.8,228.9 299.3,210.7 C300.8,192.4 300.8,186.9 302.3,167.3 C303.8,147.8 303.6,147.6 305.0,137.3 C306.4,127.1 306.3,130.3 307.7,129.0 C309.0,127.7 308.7,128.3 310.0,132.3 C311.3,136.3 311.1,137.8 312.7,144.0 C314.3,150.2 314.5,150.8 316.0,155.7 C317.5,160.6 317.1,159.2 318.3,162.3 C319.6,165.4 319.5,161.6 320.7,167.3 C321.8,173.1 321.4,172.4 322.7,184.0 C323.9,195.6 324.0,199.6 325.3,210.7 C326.7,221.8 326.2,220.3 327.7,225.7 C329.1,231.0 329.3,230.7 330.7,230.7 C332.0,230.7 331.5,234.6 332.7,225.7 C333.8,216.8 333.7,213.8 335.0,197.3 C336.3,180.9 336.3,177.3 337.7,164.0 C339.0,150.7 338.8,153.4 340.0,147.3 C341.2,141.3 341.0,142.7 342.3,141.3 C343.7,140.0 343.4,141.6 345.0,142.3 C346.6,143.0 346.6,143.1 348.3,144.0 C350.1,144.9 350.3,143.9 351.7,145.7 C353.0,147.4 352.2,151.3 353.3,150.7 C354.5,150.0 354.8,143.3 356.0,143.3 C357.2,143.3 356.6,141.6 357.7,150.7 C358.7,159.7 358.7,161.3 360.0,177.3 C361.3,193.3 361.2,197.3 362.7,210.7 C364.1,224.0 364.0,221.6 365.3,227.3 C366.7,233.1 366.4,232.8 367.7,232.3 C368.9,231.9 368.7,235.0 370.0,225.7 C371.3,216.3 371.2,212.9 372.7,197.3 C374.1,181.8 373.8,180.2 375.3,167.3 C376.8,154.4 376.9,155.9 378.3,149.0 C379.8,142.1 379.3,143.6 380.7,141.3 C382.0,139.1 381.9,138.6 383.3,140.7 C384.8,142.7 384.7,143.2 386.0,149.0 C387.3,154.8 387.1,155.7 388.3,162.3 C389.6,169.0 389.5,175.8 390.7,174.0 C391.8,172.2 391.7,159.2 392.7,155.7 C393.6,152.1 393.3,153.1 394.3,160.7 C395.4,168.2 395.3,168.9 396.7,184.0 C398.0,199.1 397.8,202.2 399.3,217.3 C400.8,232.4 400.8,232.7 402.3,240.7 C403.8,248.7 403.6,246.4 405.0,247.3 C406.4,248.2 406.3,250.2 407.7,244.0 C409.0,237.8 408.7,236.4 410.0,224.0 C411.3,211.6 411.2,209.3 412.7,197.3 C414.1,185.3 414.0,185.7 415.3,179.0 C416.7,172.3 416.4,172.3 417.7,172.3 C418.9,172.3 418.7,174.1 420.0,179.0 C421.3,183.9 421.1,184.9 422.7,190.7 C424.3,196.4 424.4,197.8 426.0,200.7 C427.6,203.5 427.3,200.4 428.7,201.3 C430.0,202.2 429.8,198.0 431.0,204.0 C432.2,210.0 431.8,212.4 433.3,224.0 C434.8,235.6 435.2,238.9 436.7,247.3 C438.2,255.8 438.1,252.8 439.0,255.7 C439.9,258.5 438.8,256.7 440.0,258.0 C441.2,259.3 441.6,259.1 443.3,260.7 C445.1,262.3 445.2,264.9 446.7,264.0 C448.2,263.1 447.8,264.4 449.0,257.3 C450.2,250.2 449.8,248.0 451.0,237.3 C452.2,226.7 452.2,224.4 453.3,217.3 C454.5,210.2 454.3,210.7 455.3,210.7 C456.4,210.7 456.1,213.3 457.3,217.3 C458.6,221.3 458.6,221.2 460.0,225.7 C461.4,230.1 461.4,233.6 462.7,234.0 C463.9,234.4 463.6,231.8 464.7,227.3 C465.7,222.9 465.6,220.4 466.7,217.3 C467.7,214.2 467.6,213.9 468.7,215.7 C469.7,217.4 469.6,217.3 470.7,224.0 C471.7,230.7 471.5,232.7 472.7,240.7 C473.8,248.7 473.8,249.4 475.0,254.0 C476.2,258.6 476.0,257.6 477.3,258.0 C478.7,258.4 478.7,261.2 480.0,255.7 C481.3,250.2 481.0,252.0 482.3,237.3 C483.7,222.7 483.6,217.6 485.0,200.7 C486.4,183.8 486.3,184.2 487.7,174.0 C489.0,163.8 488.7,166.1 490.0,162.3 C491.3,158.6 491.3,159.1 492.7,160.0 C494.0,160.9 493.8,161.5 495.0,165.7 C496.2,169.8 496.0,170.3 497.3,175.7 C498.7,181.0 498.8,181.8 500.0,185.7 C501.2,189.5 500.6,190.9 501.7,190.0 C502.7,189.1 502.9,183.0 504.0,182.3 C505.1,181.6 504.6,181.6 505.7,187.3 C506.7,193.1 506.7,195.1 508.0,204.0 C509.3,212.9 509.2,213.6 510.7,220.7 C512.1,227.8 511.9,227.1 513.3,230.7 C514.8,234.2 514.7,234.4 516.0,234.0 C517.3,233.6 517.1,237.0 518.3,229.0 C519.6,221.0 519.3,219.6 520.7,204.0 C522.0,188.4 521.9,184.0 523.3,170.7 C524.8,157.3 524.6,159.8 526.0,154.0 C527.4,148.2 527.3,149.4 528.7,149.0 C530.0,148.6 529.8,149.2 531.0,152.3 C532.2,155.4 532.0,156.0 533.3,160.7 C534.7,165.4 534.8,166.6 536.0,170.0 C537.2,173.4 536.9,175.4 538.0,173.3 C539.1,171.3 538.9,164.8 540.0,162.3 C541.1,159.8 540.9,159.1 542.0,164.0 C543.1,168.9 542.8,169.1 544.0,180.7 C545.2,192.2 545.2,195.3 546.7,207.3 C548.1,219.3 547.9,218.4 549.3,225.7 C550.8,233.0 550.8,232.0 552.0,234.7 C553.2,237.3 552.9,237.6 554.0,235.7 C555.1,233.7 554.8,238.4 556.0,227.3 C557.2,216.2 557.1,212.7 558.3,194.0 C559.6,175.3 559.3,172.4 560.7,157.3 C562.0,142.2 561.9,143.4 563.3,137.3 C564.8,131.3 564.7,134.2 566.0,134.7 C567.3,135.1 567.1,135.2 568.3,139.0 C569.6,142.8 569.3,143.7 570.7,149.0 C572.0,154.3 572.1,155.0 573.3,159.0 C574.6,163.0 574.3,164.9 575.3,164.0 C576.4,163.1 576.3,156.1 577.3,155.7 C578.4,155.2 578.2,154.8 579.3,162.3 C580.5,169.9 580.4,171.6 581.7,184.0 C582.9,196.4 582.7,197.9 584.0,209.0 C585.3,220.1 585.2,219.9 586.7,225.7 C588.1,231.4 588.0,229.8 589.3,230.7 C590.7,231.6 590.4,234.3 591.7,229.0 C592.9,223.7 592.7,226.2 594.0,210.7 C595.3,195.1 595.2,190.2 596.7,170.7 C598.1,151.1 597.9,150.2 599.3,137.3 C600.8,124.4 600.7,127.2 602.0,122.3 C603.3,117.4 603.1,118.6 604.3,119.0 C605.6,119.4 605.4,120.0 606.7,124.0 C607.9,128.0 607.8,128.2 609.0,134.0 C610.2,139.8 610.0,142.1 611.0,145.7 C612.0,149.2 611.8,148.5 612.7,147.3 C613.6,146.2 613.4,141.8 614.3,141.3 C615.2,140.9 615.0,139.6 616.0,145.7 C617.0,151.7 616.8,152.0 618.0,164.0 C619.2,176.0 619.2,177.8 620.7,190.7 C622.1,203.6 621.9,204.8 623.3,212.3 C624.8,219.9 624.7,218.1 626.0,219.0 C627.3,219.9 627.1,222.3 628.3,215.7 C629.6,209.0 629.3,209.6 630.7,194.0 C632.0,178.4 631.9,173.3 633.3,157.3 C634.8,141.3 634.7,142.4 636.0,134.0 C637.3,125.6 637.1,128.2 638.3,125.7 C639.6,123.2 639.5,123.8 640.7,124.7 C641.8,125.6 641.4,125.2 642.7,129.0 C643.9,132.8 643.9,133.7 645.3,139.0 C646.8,144.3 646.8,145.4 648.0,149.0 C649.2,152.6 649.0,153.7 650.0,152.3 C651.0,151.0 650.8,143.1 651.7,144.0 C652.6,144.9 652.4,145.9 653.3,155.7 C654.3,165.4 654.2,166.0 655.3,180.7 C656.5,195.3 656.4,198.2 657.7,210.7 C658.9,223.1 658.7,222.2 660.0,227.3 C661.3,232.5 661.2,228.7 662.7,230.0 C664.1,231.3 664.1,232.2 665.3,232.3 C666.6,232.5 666.3,235.6 667.3,230.7 C668.4,225.8 668.2,224.7 669.3,214.0 C670.5,203.3 670.4,201.5 671.7,190.7 C672.9,179.8 672.8,179.1 674.0,173.3 C675.2,167.6 674.8,168.8 676.0,169.0 C677.2,169.2 677.1,170.0 678.3,174.0 C679.6,178.0 679.3,178.2 680.7,184.0 C682.0,189.8 681.9,191.2 683.3,195.7 C684.8,200.1 684.8,199.8 686.0,200.7 C687.2,201.6 686.9,195.4 688.0,199.0 C689.1,202.6 688.8,203.8 690.0,214.0 C691.2,224.2 691.0,224.9 692.3,237.3 C693.7,249.8 693.6,250.9 695.0,260.7 C696.4,270.4 696.3,269.6 697.7,274.0 C699.0,278.4 698.7,277.2 700.0,277.3 C701.3,277.5 701.2,276.9 702.7,274.7 C704.1,272.4 704.0,275.4 705.3,269.0 C706.7,262.6 706.4,262.7 707.7,250.7 C708.9,238.7 708.8,234.2 710.0,224.0 C711.2,213.8 710.9,215.9 712.0,212.3 C713.1,208.8 712.9,210.7 714.0,210.7 C715.1,210.7 714.9,209.7 716.0,212.3 C717.1,215.0 716.9,215.8 718.0,220.7 C719.1,225.6 718.9,226.7 720.0,230.7 C721.1,234.7 720.9,238.3 722.0,235.7 C723.1,233.0 722.9,225.6 724.0,220.7 C725.1,215.8 724.9,216.4 726.0,217.3 C727.1,218.2 726.9,219.1 728.0,224.0 C729.1,228.9 728.8,229.4 730.0,235.7 C731.2,241.9 731.0,243.3 732.3,247.3 C733.7,251.3 733.6,250.7 735.0,250.7 C736.4,250.7 736.3,252.7 737.7,247.3 C739.0,242.0 738.8,243.1 740.0,230.7 C741.2,218.2 740.9,215.8 742.0,200.7 C743.1,185.6 742.8,185.6 744.0,174.0 C745.2,162.4 745.2,162.8 746.7,157.3 C748.1,151.8 748.0,154.0 749.3,153.3 C750.7,152.6 750.4,151.8 751.7,154.7 C752.9,157.5 752.7,158.8 754.0,164.0 C755.3,169.2 755.2,169.6 756.7,174.0 C758.1,178.4 758.1,178.4 759.3,180.7 C760.6,182.9 760.3,183.0 761.3,182.3 C762.4,181.6 762.4,175.8 763.3,178.0 C764.3,180.2 763.9,180.2 765.0,190.7 C766.1,201.2 766.0,204.4 767.3,217.3 C768.7,230.2 768.6,231.0 770.0,239.0 C771.4,247.0 771.3,245.8 772.7,247.3 C774.0,248.8 773.8,250.0 775.0,244.7 C776.2,239.3 776.2,240.0 777.3,227.3 C778.5,214.7 778.2,214.2 779.3,197.3 C780.5,180.4 780.4,176.4 781.7,164.0 C782.9,151.6 782.7,155.1 784.0,150.7 C785.3,146.2 785.2,148.4 786.7,147.3 C788.1,146.3 788.1,145.8 789.3,146.7 C790.6,147.6 790.3,147.4 791.3,150.7 C792.4,154.0 792.3,155.4 793.3,159.0 C794.4,162.6 794.3,164.9 795.3,164.0 C796.4,163.1 796.3,159.7 797.3,155.7 C798.4,151.7 798.4,147.7 799.3,149.0 C800.3,150.3 799.9,149.6 801.0,160.7 C802.1,171.8 802.1,175.6 803.3,190.7 C804.6,205.8 804.4,206.7 805.7,217.3 C806.9,228.0 806.8,226.0 808.0,230.7 C809.2,235.3 809.1,234.7 810.3,234.7 C811.6,234.7 811.4,238.0 812.7,230.7 C813.9,223.4 813.8,223.3 815.0,207.3 C816.2,191.3 816.0,187.6 817.3,170.7 C818.7,153.8 818.6,153.8 820.0,144.0 C821.4,134.2 821.2,137.4 822.7,134.0 C824.1,130.6 824.0,131.3 825.3,131.3 C826.7,131.3 826.4,131.1 827.7,134.0 C828.9,136.9 828.7,137.9 830.0,142.3 C831.3,146.8 831.4,148.0 832.7,150.7 C833.9,153.3 833.6,153.4 834.7,152.3 C835.7,151.3 835.6,143.6 836.7,146.7 C837.7,149.8 837.6,152.3 838.7,164.0 C839.7,175.7 839.4,176.4 840.7,190.7 C841.9,204.9 841.9,207.6 843.3,217.3 C844.8,227.1 844.6,225.1 846.0,227.3 C847.4,229.6 847.3,228.8 848.7,225.7 C850.0,222.6 849.8,226.8 851.0,215.7 C852.2,204.6 852.1,200.4 853.3,184.0 C854.6,167.6 854.3,165.7 855.7,154.0 C857.0,142.3 856.9,144.4 858.3,140.0 C859.8,135.6 859.7,137.6 861.0,137.3 C862.3,137.1 862.0,136.3 863.3,139.0 C864.7,141.7 864.7,142.9 866.0,147.3 C867.3,151.8 867.1,151.7 868.3,155.7 C869.6,159.7 869.5,162.1 870.7,162.3 C871.8,162.6 871.7,154.9 872.7,156.7 C873.6,158.4 873.3,158.2 874.3,169.0 C875.4,179.8 875.3,181.8 876.7,197.3 C878.0,212.9 877.9,214.9 879.3,227.3 C880.8,239.8 880.7,238.8 882.0,244.0 C883.3,249.2 883.1,248.4 884.3,246.7 C885.6,244.9 885.4,247.8 886.7,237.3 C887.9,226.8 887.7,224.2 889.0,207.3 C890.3,190.4 890.3,186.9 891.7,174.0 C893.0,161.1 892.7,164.5 894.0,159.0 C895.3,153.5 895.2,155.1 896.7,153.3 C898.1,151.6 898.0,151.7 899.3,152.3 C900.7,153.0 900.4,152.1 901.7,155.7 C902.9,159.2 902.8,160.3 904.0,165.7 C905.2,171.0 904.9,174.2 906.0,175.7 C907.1,177.2 907.1,173.6 908.0,171.3 C908.9,169.1 908.5,165.3 909.3,167.3 C910.1,169.4 909.9,169.2 911.0,179.0 C912.1,188.8 912.0,191.1 913.3,204.0 C914.7,216.9 914.6,217.4 916.0,227.3 C917.4,237.3 917.2,237.1 918.7,241.3 C920.1,245.6 919.9,243.5 921.3,243.3 C922.8,243.2 922.8,242.7 924.0,240.7 C925.2,238.6 924.8,241.9 926.0,235.7 C927.2,229.4 927.1,226.7 928.3,217.3 C929.6,208.0 929.3,207.8 930.7,200.7 C932.0,193.6 932.1,193.5 933.3,190.7 C934.6,187.8 934.3,188.7 935.3,190.0 C936.4,191.3 936.1,191.0 937.3,195.7 C938.6,200.3 938.7,202.0 940.0,207.3 C941.3,212.7 941.1,214.8 942.3,215.7 C943.6,216.6 943.5,212.9 944.7,210.7 C945.8,208.4 945.6,205.6 946.7,207.3 C947.7,209.1 947.5,209.3 948.7,217.3 C949.8,225.3 949.8,226.7 951.0,237.3 C952.2,248.0 952.0,248.4 953.3,257.3 C954.7,266.2 954.6,265.8 956.0,270.7 C957.4,275.6 957.2,273.9 958.7,275.7 C960.1,277.4 959.9,277.8 961.3,277.3 C962.8,276.9 962.6,280.2 964.0,274.0 C965.4,267.8 965.3,265.6 966.7,254.0 C968.0,242.4 967.8,239.7 969.0,230.7 C970.2,221.6 970.1,223.1 971.3,220.0 C972.6,216.9 972.5,217.9 973.7,219.0 C974.8,220.1 974.6,219.6 975.7,224.0 C976.7,228.4 976.6,231.7 977.7,235.7 C978.7,239.7 978.6,242.1 979.7,239.0 C980.7,235.9 980.6,230.7 981.7,224.0 C982.7,217.3 982.6,214.9 983.7,214.0 C984.7,213.1 984.5,213.6 985.7,220.7 C986.8,227.8 986.7,231.8 988.0,240.7 C989.3,249.6 989.2,249.6 990.7,254.0 C992.1,258.4 991.9,256.3 993.3,257.3 C994.8,258.4 994.8,259.8 996.0,258.0 C997.2,256.2 996.8,261.5 998.0,250.7 C999.2,239.8 999.1,236.0 1000.3,217.3 C1001.6,198.7 1001.3,195.8 1002.7,180.7 C1004.0,165.6 1003.9,167.8 1005.3,160.7 C1006.8,153.6 1006.6,155.6 1008.0,154.0 C1009.4,152.4 1009.3,152.0 1010.7,154.7 C1012.0,157.3 1011.8,158.4 1013.0,164.0 C1014.2,169.6 1014.2,170.3 1015.3,175.7 C1016.5,181.0 1016.3,184.4 1017.3,184.0 C1018.4,183.6 1018.4,177.1 1019.3,174.0 C1020.3,170.9 1020.0,167.9 1021.0,172.3 C1022.0,176.8 1021.8,179.6 1023.0,190.7 C1024.2,201.8 1024.1,203.3 1025.3,214.0 C1026.6,224.7 1026.4,223.6 1027.7,230.7 C1028.9,237.8 1028.7,238.4 1030.0,240.7 C1031.3,242.9 1031.3,242.6 1032.7,239.0 C1034.0,235.4 1033.8,237.6 1035.0,227.3 C1036.2,217.1 1036.3,213.1 1037.3,200.7 C1038.4,188.2 1038.3,188.7 1039.0,180.7 C1039.7,172.7 1039.0,175.1 1040.0,170.7 C1041.0,166.2 1041.2,166.2 1042.7,164.0 C1044.1,161.8 1043.9,161.4 1045.3,162.3 C1046.8,163.2 1046.6,163.3 1048.0,167.3 C1049.4,171.3 1049.2,172.4 1050.7,177.3 C1052.1,182.2 1052.1,187.3 1053.3,185.7 C1054.6,184.1 1054.4,175.8 1055.3,171.3 C1056.2,166.9 1055.8,165.6 1056.7,169.0 C1057.6,172.4 1057.5,172.9 1058.7,184.0 C1059.8,195.1 1059.8,198.2 1061.0,210.7 C1062.2,223.1 1062.0,222.2 1063.3,230.7 C1064.7,239.1 1064.6,238.6 1066.0,242.3 C1067.4,246.1 1067.3,245.1 1068.7,244.7 C1070.0,244.2 1069.8,248.0 1071.0,240.7 C1072.2,233.4 1072.1,231.6 1073.3,217.3 C1074.6,203.1 1074.4,199.8 1075.7,187.3 C1076.9,174.9 1076.7,176.9 1078.0,170.7 C1079.3,164.4 1079.2,166.2 1080.7,164.0 C1082.1,161.8 1081.9,161.9 1083.3,162.3 C1084.8,162.8 1084.6,163.0 1086.0,165.7 C1087.4,168.3 1087.3,168.8 1088.7,172.3 C1090.0,175.9 1089.8,179.4 1091.0,179.0 C1092.2,178.6 1092.0,173.3 1093.0,170.7 C1094.0,168.0 1093.8,166.3 1094.7,169.0 C1095.6,171.7 1095.3,171.3 1096.3,180.7 C1097.4,190.0 1097.3,192.4 1098.7,204.0 C1100.0,215.6 1099.9,216.2 1101.3,224.0 C1102.8,231.8 1102.6,230.7 1104.0,233.3 C1105.4,236.0 1105.3,236.5 1106.7,234.0 C1108.0,231.5 1107.8,235.6 1109.0,224.0 C1110.2,212.4 1110.1,208.4 1111.3,190.7 C1112.6,172.9 1112.4,168.4 1113.7,157.3 C1114.9,146.2 1114.7,151.8 1116.0,149.0 C1117.3,146.2 1117.2,147.6 1118.7,146.7 C1120.1,145.8 1119.9,144.6 1121.3,145.7 C1122.8,146.7 1122.8,146.7 1124.0,150.7 C1125.2,154.7 1125.0,157.6 1126.0,160.7 C1127.0,163.8 1126.8,164.6 1127.7,162.3 C1128.6,160.1 1128.4,155.4 1129.3,152.3 C1130.3,149.2 1130.3,145.8 1131.3,150.7 C1132.4,155.6 1132.2,158.2 1133.3,170.7 C1134.5,183.1 1134.3,184.9 1135.7,197.3 C1137.0,209.8 1136.9,210.2 1138.3,217.3 C1139.8,224.4 1139.6,223.6 1141.0,224.0 C1142.4,224.4 1142.3,224.3 1143.7,219.0 C1145.0,213.7 1144.8,216.0 1146.0,204.0 C1147.2,192.0 1147.1,188.2 1148.3,174.0 C1149.6,159.8 1149.3,160.0 1150.7,150.7 C1152.0,141.3 1151.9,143.0 1153.3,139.0 C1154.8,135.0 1154.6,136.3 1156.0,135.7 C1157.4,135.0 1157.3,134.0 1158.7,136.7 C1160.0,139.3 1159.8,140.6 1161.0,145.7 C1162.2,150.7 1162.1,152.1 1163.3,155.7 C1164.6,159.2 1164.5,159.0 1165.7,159.0 C1166.8,159.0 1166.7,153.4 1167.7,155.7 C1168.6,157.9 1168.3,158.0 1169.3,167.3 C1170.4,176.7 1170.4,178.2 1171.7,190.7 C1172.9,203.1 1172.7,203.3 1174.0,214.0 C1175.3,224.7 1175.2,224.6 1176.7,230.7 C1178.1,236.7 1177.9,235.1 1179.3,236.7 C1180.8,238.3 1180.6,236.9 1182.0,236.7 C1183.4,236.4 1183.4,239.0 1184.7,235.7 C1185.9,232.3 1185.5,231.6 1186.7,224.0 C1187.8,216.4 1187.8,216.2 1189.0,207.3 C1190.2,198.4 1190.1,197.8 1191.3,190.7 C1192.6,183.6 1192.4,183.8 1193.7,180.7 C1194.9,177.6 1194.8,177.7 1196.0,179.0 C1197.2,180.3 1196.9,180.8 1198.0,185.7 C1199.1,190.6 1198.9,192.9 1200.0,197.3 C1201.1,201.8 1200.9,202.8 1202.0,202.3 C1203.1,201.9 1203.0,196.1 1204.0,195.7 C1205.0,195.2 1204.7,194.9 1205.7,200.7 C1206.6,206.4 1206.5,209.3 1207.7,217.3 C1208.8,225.3 1208.8,224.4 1210.0,230.7 C1211.2,236.9 1211.3,233.6 1212.3,240.7 C1213.4,247.8 1213.3,245.8 1214.0,257.3 C1214.7,268.9 1214.5,268.9 1215.0,284.0 C1215.5,299.1 1215.6,314.0 1216.0,314.0 C1216.4,314.0 1216.2,294.5 1216.7,284.0 C1217.1,273.5 1216.8,277.2 1217.7,274.7 C1218.6,272.2 1218.7,275.7 1220.0,274.7 C1221.3,273.6 1221.3,275.3 1222.7,270.7 C1224.0,266.0 1223.8,265.3 1225.0,257.3 C1226.2,249.3 1226.1,247.8 1227.3,240.7 C1228.6,233.6 1228.4,234.4 1229.7,230.7 C1230.9,226.9 1230.8,226.7 1232.0,226.7 C1233.2,226.7 1232.9,226.5 1234.0,230.7 C1235.1,234.8 1234.9,237.0 1236.0,242.3 C1237.1,247.7 1236.9,252.0 1238.0,250.7 C1239.1,249.3 1238.9,244.4 1240.0,237.3 C1241.1,230.2 1240.9,226.7 1242.0,224.0 C1243.1,221.3 1242.9,222.9 1244.0,227.3 C1245.1,231.8 1244.8,232.7 1246.0,240.7 C1247.2,248.7 1247.0,250.2 1248.3,257.3 C1249.7,264.4 1249.6,263.8 1251.0,267.3 C1252.4,270.9 1252.3,270.7 1253.7,270.7 C1255.0,270.7 1254.8,272.7 1256.0,267.3 C1257.2,262.0 1257.1,262.2 1258.3,250.7 C1259.6,239.1 1259.4,237.3 1260.7,224.0 C1261.9,210.7 1261.8,209.6 1263.0,200.7 C1264.2,191.8 1264.0,193.5 1265.3,190.7 C1266.7,187.8 1266.6,190.0 1268.0,190.0 C1269.4,190.0 1269.4,188.3 1270.7,190.7 C1271.9,193.1 1271.7,195.9 1272.7,199.0 C1273.6,202.1 1273.4,203.7 1274.3,202.3 C1275.3,201.0 1275.3,197.1 1276.3,194.0 C1277.4,190.9 1277.4,191.1 1278.3,190.7 C1279.3,190.2 1279.0,189.7 1280.0,192.3 C1281.0,195.0 1280.9,194.9 1282.0,200.7 C1283.1,206.4 1283.0,206.0 1284.0,214.0 C1285.0,222.0 1284.9,224.0 1285.7,230.7 C1286.4,237.3 1286.4,236.8 1286.7,239.0" fill="none" stroke="#cb4a94" stroke-width="2.6" stroke-linejoin="round" stroke-linecap="round"/>
<line x1="131" x2="1298" y1="468.5" y2="468.5" stroke="#ccd4e2" stroke-width="1"/>
<line x1="179.2" x2="179.2" y1="468.5" y2="479.3" stroke="#b4b8c0" stroke-width="0.8"/>
<line x1="253.0" x2="253.0" y1="468.5" y2="479.3" stroke="#b4b8c0" stroke-width="0.8"/>
<line x1="326.8" x2="326.8" y1="468.5" y2="479.3" stroke="#b4b8c0" stroke-width="0.8"/>
<line x1="400.6" x2="400.6" y1="468.5" y2="479.3" stroke="#b4b8c0" stroke-width="0.8"/>
<line x1="474.4" x2="474.4" y1="468.5" y2="479.3" stroke="#b4b8c0" stroke-width="0.8"/>
<line x1="548.2" x2="548.2" y1="468.5" y2="479.3" stroke="#b4b8c0" stroke-width="0.8"/>
<line x1="622.0" x2="622.0" y1="468.5" y2="479.3" stroke="#b4b8c0" stroke-width="0.8"/>
<line x1="695.8" x2="695.8" y1="468.5" y2="479.3" stroke="#b4b8c0" stroke-width="0.8"/>
<line x1="769.6" x2="769.6" y1="468.5" y2="479.3" stroke="#b4b8c0" stroke-width="0.8"/>
<line x1="843.4" x2="843.4" y1="468.5" y2="479.3" stroke="#b4b8c0" stroke-width="0.8"/>
<line x1="917.2" x2="917.2" y1="468.5" y2="479.3" stroke="#b4b8c0" stroke-width="0.8"/>
<line x1="991.0" x2="991.0" y1="468.5" y2="479.3" stroke="#b4b8c0" stroke-width="0.8"/>
<line x1="1064.8" x2="1064.8" y1="468.5" y2="479.3" stroke="#b4b8c0" stroke-width="0.8"/>
<line x1="1138.6" x2="1138.6" y1="468.5" y2="479.3" stroke="#b4b8c0" stroke-width="0.8"/>
<line x1="1212.4" x2="1212.4" y1="468.5" y2="479.3" stroke="#b4b8c0" stroke-width="0.8"/>
<line x1="1287.5" x2="1287.5" y1="468.5" y2="479.3" stroke="#b4b8c0" stroke-width="0.8"/>
<text x="179.2" y="489.3" text-anchor="middle" class="ax">2. Oct</text>
<text x="253.0" y="489.3" text-anchor="middle" class="ax">4. Oct</text>
<text x="326.8" y="489.3" text-anchor="middle" class="ax">6. Oct</text>
<text x="400.6" y="489.3" text-anchor="middle" class="ax">8. Oct</text>
<text x="474.4" y="489.3" text-anchor="middle" class="ax">10. Oct</text>
<text x="548.2" y="489.3" text-anchor="middle" class="ax">12. Oct</text>
<text x="622.0" y="489.3" text-anchor="middle" class="ax">14. Oct</text>
<text x="695.8" y="489.3" text-anchor="middle" class="ax">16. Oct</text>
<text x="769.6" y="489.3" text-anchor="middle" class="ax">18. Oct</text>
<text x="843.4" y="489.3" text-anchor="middle" class="ax">20. Oct</text>
<text x="917.2" y="489.3" text-anchor="middle" class="ax">22. Oct</text>
<text x="991.0" y="489.3" text-anchor="middle" class="ax">24. Oct</text>
<text x="1064.8" y="489.3" text-anchor="middle" class="ax">26. Oct</text>
<text x="1138.6" y="489.3" text-anchor="middle" class="ax">28. Oct</text>
<text x="1212.4" y="489.3" text-anchor="middle" class="ax">30. Oct</text>
<text x="1280.5" y="489.3" text-anchor="middle" class="ax">1. Nov</text>
<text x="114.5" y="472.0" text-anchor="end" class="ax ay">0 GW</text>
<text x="114.5" y="385.4" text-anchor="end" class="ax ay">20 GW</text>
<text x="114.5" y="298.8" text-anchor="end" class="ax ay">40 GW</text>
<text x="114.5" y="212.2" text-anchor="end" class="ax ay">60 GW</text>
<text x="114.5" y="125.6" text-anchor="end" class="ax ay">80 GW</text>
<text x="114.5" y="39.0" text-anchor="end" class="ax ay">100 GW</text>
<text transform="translate(57.5,251.5) rotate(-90)" text-anchor="middle" class="ttl">Stromerzeugung und -verbrauch</text>
<defs><pattern id="hatch" width="3.5" height="3.5" patternUnits="userSpaceOnUse" patternTransform="rotate(45)"><rect width="3.5" height="3.5" fill="#6377a5"/><line x1="0" y1="0" x2="0" y2="3.5" stroke="#8093bf" stroke-width="1.4"/></pattern></defs>
<circle cx="18.5" cy="520.95" r="8" fill="#62739a"/>
<text x="32.6" y="527.7" class="lg">Konv. Kraftwerke</text>
<circle cx="175.8" cy="520.95" r="8" fill="url(#hatch)"/>
<text x="189.6" y="527.7" class="lg">Konv. Kraftwerke (Vorläufig)</text>
<circle cx="403.2" cy="520.95" r="8" fill="#fbd744"/>
<text x="417.0" y="527.7" class="lg">Solar</text>
<circle cx="483.1" cy="520.95" r="8" fill="#2182c6"/>
<text x="496.4" y="527.7" class="lg">Wind Onshore</text>
<circle cx="620.1" cy="520.95" r="8" fill="#0860a0"/>
<text x="633.6" y="527.7" class="lg">Wind Offshore</text>
<circle cx="758.4" cy="520.95" r="8" fill="#7baad4"/>
<text x="772.5" y="527.7" class="lg">Wasserkraft</text>
<circle cx="883.3" cy="520.95" r="8" fill="#447a50"/>
<text x="896.8" y="527.7" class="lg">Biomasse</text>
<line x1="984" x2="1000" y1="523" y2="523" stroke="#cb4a94" stroke-width="2"/>
<text x="1006.5" y="527.7" class="lg">Stromverbrauch</text>
<line x1="1133" x2="1150" y1="523" y2="523" stroke="#cb4a94" stroke-width="1.6" stroke-dasharray="7,3" opacity="0.85"/>
<text x="1155.5" y="527.7" class="lg">Stromverbrauch (Vorläufig)</text>
<circle cx="18.5" cy="549.65" r="8" fill="#cccccc"/>
<text x="32.6" y="556.2" class="lg off">Steinkohle</text>
<circle cx="132.1" cy="549.65" r="8" fill="#cccccc"/>
<text x="145.6" y="556.2" class="lg off">Braunkohle</text>
<circle cx="252.3" cy="549.65" r="8" fill="#cccccc"/>
<text x="266.2" y="556.2" class="lg off">Kernenergie</text>
<circle cx="377.7" cy="549.65" r="8" fill="#cccccc"/>
<text x="391.6" y="556.2" class="lg off">Pumpspeicher</text>
<circle cx="516.5" cy="549.65" r="8" fill="#cccccc"/>
<text x="530.1" y="556.2" class="lg off">Erdgas</text>
<circle cx="606.9" cy="549.65" r="8" fill="#cccccc"/>
<text x="620.4" y="556.2" class="lg off">Andere</text>
<text x="1373.5" y="606" text-anchor="end" class="ft">Agora Energiewende; Stand: 03.11.2016, 21:30</text>
</svg>
</body></html>
